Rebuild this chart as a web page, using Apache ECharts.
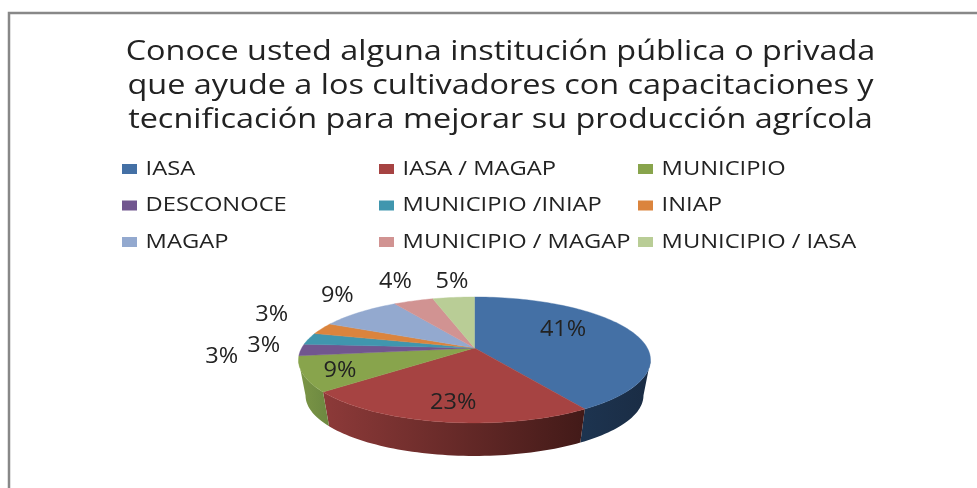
<!DOCTYPE html>
<html>
<head>
<meta charset="utf-8">
<style>html,body{margin:0;padding:0;background:#fff}#c{width:977px;height:488px;filter:blur(0.4px)}</style>
<script src="https://cdn.jsdelivr.net/npm/echarts@6/dist/echarts.min.js"></script>
</head>
<body>
<div id="c"></div>
<script>
const categories = ['IASA','IASA / MAGAP','MUNICIPIO','DESCONOCE','MUNICIPIO /INIAP','INIAP','MAGAP','MUNICIPIO / MAGAP','MUNICIPIO / IASA'];
const shares = [41,23,9,3,3,3,9,4.4,4.6];
const titleLines = ['Conoce usted alguna institución pública o privada','que ayude a los cultivadores con capacitaciones y','tecnificación para mejorar su producción agrícola'];

const topColors = ['#4470a5','#a64342','#88a44c','#71568f','#4096ae','#db843d','#93a9cf','#d19392','#b9cd96'];
const sideColors = [['#1d3450','#1a2c44'],['#8d3a39','#421a18'],['#7c9647','#6c8840'],null,null,null,null,null,null];
const labelNudges = [[-69,-2],[12,-19],[37,-3],[-79,7],[-45,7],[-50,-14],[-22,-16],[-18,-19],[-1.5,-15]];
const FONT = '"Open Sans", sans-serif';
const TEXT = '#222';
const TITLE_STRETCH = 1.157, LEGEND_STRETCH = 1.186, LABEL_STRETCH = 1.12;

const apexX = 474.5, apexY = 348, radX = 172.8, radY = 60.7, tilt = 0.19;
const rimScale = 0.96, rimDrop = 36;
const frontStart = 101, frontEnd = 259;

function project(deg, r) {
  const a = deg * Math.PI / 180;
  const u = Math.sin(a) * r, v = -Math.cos(a) * r, w = 1 - tilt * v;
  return [radX * u / w, radY * v / w];
}
function arc(d0, d1, place) {
  const n = Math.max(2, Math.ceil((d1 - d0) / 1.5)), out = [];
  for (let i = 0; i <= n; i++) out.push(place(project(d0 + (d1 - d0) * i / n, 1)));
  return out;
}
const onTop = p => [apexX + p[0], apexY + p[1]];
const onBase = p => [apexX + p[0] * rimScale, apexY + p[1] * rimScale + rimDrop];

function makeSlice(index) {
  return function (params, api) {
    const start = api.value(1) * 3.6, end = start + api.value(0) * 3.6;
    const children = [];
    const s0 = Math.max(start, frontStart), s1 = Math.min(end, frontEnd);
    if (sideColors[index] && s1 > s0) {
      const pts = arc(s0, s1, onTop).concat(arc(s0, s1, onBase).reverse());
      const fill = new echarts.graphic.LinearGradient(
        Math.min(...pts.map(p => p[0])), 0, Math.max(...pts.map(p => p[0])), 0,
        [{offset: 0, color: sideColors[index][0]}, {offset: 1, color: sideColors[index][1]}], true);
      children.push({type: 'polygon', shape: {points: pts}, style: {fill: fill}});
    }
    const top = [[apexX, apexY]].concat(arc(start, end, onTop));
    children.push({type: 'polygon', shape: {points: top}, style: {fill: topColors[index], stroke: topColors[index], lineWidth: 0.4}});
    const mid = onTop(project((start + end) / 2, 1));
    const lx = mid[0] + labelNudges[index][0], ly = mid[1] + labelNudges[index][1];
    children.push({type: 'text', z2: 10, x: lx, y: ly, scaleX: LABEL_STRETCH, style: {
      text: Math.round(api.value(0)) + '%',
      x: 0, y: 0,
      align: 'center', verticalAlign: 'middle',
      font: '21px ' + FONT, fill: TEXT
    }});
    return {type: 'group', children: children};
  };
}

let running = 0;
const series = categories.map((name, i) => {
  const item = [shares[i], running];
  running += shares[i];
  return {
    type: 'custom', name: name, coordinateSystem: 'none', silent: true, animation: false,
    color: topColors[i], itemStyle: {color: topColors[i]},
    data: [item], renderItem: makeSlice(i), z: 2
  };
});

const legendBase = {
  orient: 'vertical', top: 159, itemWidth: 15, itemHeight: 10, itemGap: 16.5, padding: 0,
  selectedMode: false, icon: 'rect',
  textStyle: {fontFamily: FONT, fontSize: 20, color: TEXT, padding: [0, 0, 0, 3], lineHeight: 18}
};
const legendColumn = (left, offset) => Object.assign({}, legendBase, {
  left: left, data: [0, 3, 6].map(k => categories[k + offset])
});

const chart = echarts.init(document.getElementById('c'), null, {renderer: 'canvas'});
chart.setOption({
  animation: false,
  backgroundColor: '#fff',
  title: {
    text: titleLines.join('\n'), left: 495.5, top: 30, textAlign: 'center',
    textStyle: {fontFamily: FONT, fontSize: 28, fontWeight: 'normal', color: TEXT, lineHeight: 34}
  },
  legend: [legendColumn(122, 0), legendColumn(379, 1), legendColumn(638, 2)],
  graphic: [
    {type: 'polyline', shape: {points: [[9, 488], [9, 13], [977, 13]]}, style: {stroke: '#888', lineWidth: 2.5, fill: null}}
  ],
  series: series
});

// The reference's text is horizontally stretched; widen the title and legend labels in place.
const zr = chart.getZr();
zr.storage.traverse(function (el) {
  if (el.type !== 'text' || !el.style || typeof el.style.text !== 'string') return;
  const t = el.style.text;
  const factor = t.indexOf('Conoce') === 0 ? TITLE_STRETCH : categories.indexOf(t) >= 0 ? LEGEND_STRETCH : 0;
  if (!factor) return;
  el.originX = el.style.x || 0;
  el.scaleX = factor;
  el.dirty();
});
zr.refresh();
</script>
</body>
</html>
